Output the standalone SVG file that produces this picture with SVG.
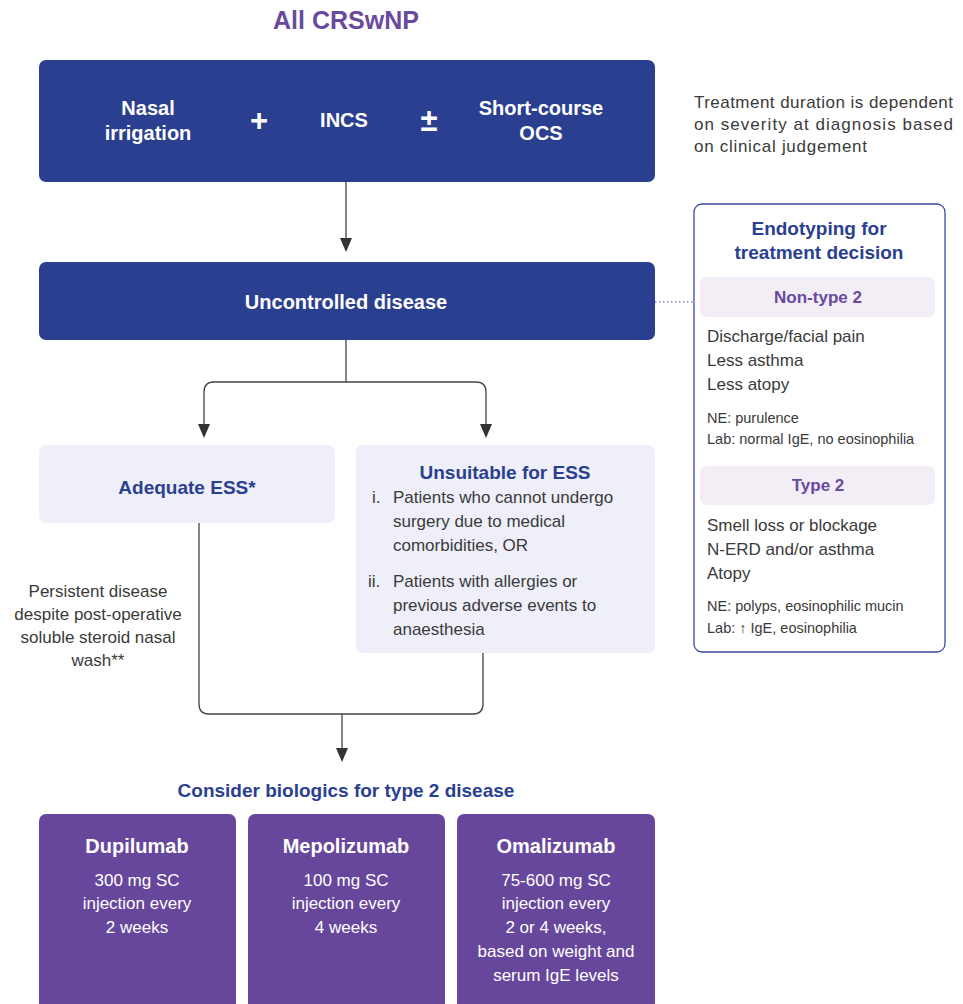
<svg xmlns="http://www.w3.org/2000/svg" width="963" height="1004" viewBox="0 0 963 1004">
<defs>
<style>
text{font-family:"Liberation Sans",Arial,sans-serif;}
.w{fill:#fff;font-weight:bold;font-size:20px;text-anchor:middle;}
.op{fill:#fff;font-weight:bold;font-size:31px;text-anchor:middle;}
.wb{fill:#fff;font-size:17px;text-anchor:middle;}
.hb{fill:#2B3F91;font-weight:bold;text-anchor:middle;}
.g{fill:#3a3a3a;font-size:17px;}
.gs{fill:#3a3a3a;font-size:14.5px;}
.pu{fill:#6A4A9E;font-weight:bold;text-anchor:middle;}
.con{fill:none;stroke:#444;stroke-width:1.3;}
.ah{fill:#333;}
</style>
</defs>
<rect width="963" height="1004" fill="#fff"/>

<text id="title" x="346" y="29" class="pu" font-size="25">All CRSwNP</text>

<g id="connectors">
<path class="con" d="M346,182 V240"/>
<path class="ah" d="M340,238 L352,238 L346,252 Z"/>
<path class="con" d="M346,340 V382 M346,382 H214 Q204,382 204,392 V426 M346,382 H476 Q486,382 486,392 V426"/>
<path class="ah" d="M198,424 L210,424 L204,438 Z"/>
<path class="ah" d="M480,424 L492,424 L486,438 Z"/>
<path class="con" d="M199,523 V704 Q199,714 209,714 H473 Q483,714 483,704 V653 M342,714 V750"/>
<path class="ah" d="M336,748 L348,748 L342,762 Z"/>
<path d="M655,302 H700" fill="none" stroke="#3A4CA0" stroke-width="1" stroke-dasharray="1.5,2.5"/>
</g>

<g id="top">
<rect x="39" y="60" width="616" height="122" rx="7" fill="#2B3F91"/>
<text x="148" y="115" class="w">Nasal</text>
<text x="148" y="140" class="w">irrigation</text>
<text x="259" y="131" class="op">+</text>
<text x="344" y="127" class="w">INCS</text>
<text x="429" y="131" class="op">±</text>
<text x="541" y="115" class="w">Short-course</text>
<text x="541" y="140" class="w">OCS</text>
</g>

<g id="note">
<text x="694" y="108" class="g" textLength="259" lengthAdjust="spacing">Treatment duration is dependent</text>
<text x="694" y="130" class="g" textLength="259" lengthAdjust="spacing">on severity at diagnosis based</text>
<text x="694" y="152" class="g" textLength="173" lengthAdjust="spacing">on clinical judgement</text>
</g>

<g id="uncontrolled">
<rect x="39" y="262" width="616" height="78" rx="7" fill="#2B3F91"/>
<text x="346" y="309" class="w">Uncontrolled disease</text>
</g>

<g id="adequate">
<rect x="39" y="445" width="296" height="78" rx="7" fill="#EEEFF8"/>
<text x="187" y="494" class="hb" font-size="19">Adequate ESS*</text>
</g>

<g id="unsuitable">
<rect x="356" y="445" width="299" height="208" rx="7" fill="#EEEFF8"/>
<text x="505" y="479" class="hb" font-size="19">Unsuitable for ESS</text>
<text x="372" y="503" class="g">i.</text>
<text x="393" y="503" class="g">Patients who cannot undergo</text>
<text x="393" y="527" class="g">surgery due to medical</text>
<text x="393" y="551" class="g">comorbidities, OR</text>
<text x="368" y="587" class="g">ii.</text>
<text x="393" y="587" class="g">Patients with allergies or</text>
<text x="393" y="611" class="g">previous adverse events to</text>
<text x="393" y="635" class="g">anaesthesia</text>
</g>

<g id="persistent">
<text x="98" y="597" class="g" text-anchor="middle">Persistent disease</text>
<text x="98" y="620" class="g" text-anchor="middle">despite post-operative</text>
<text x="98" y="643" class="g" text-anchor="middle">soluble steroid nasal</text>
<text x="98" y="666" class="g" text-anchor="middle">wash**</text>
</g>

<g id="endotyping">
<rect x="694" y="204" width="251" height="448" rx="8" fill="#fff" stroke="#3A4CA0" stroke-width="1.3"/>
<text x="819" y="235" class="hb" font-size="19">Endotyping for</text>
<text x="819" y="259" class="hb" font-size="19">treatment decision</text>
<rect x="700" y="277" width="235" height="40" rx="7" fill="#F3EEF6"/>
<text x="818" y="303" class="pu" font-size="17">Non-type 2</text>
<text x="707" y="342" class="g">Discharge/facial pain</text>
<text x="707" y="366" class="g">Less asthma</text>
<text x="707" y="390" class="g">Less atopy</text>
<text x="707" y="423" class="gs">NE: purulence</text>
<text x="707" y="444" class="gs">Lab: normal IgE, no eosinophilia</text>
<rect x="700" y="466" width="235" height="39" rx="7" fill="#F3EEF6"/>
<text x="818" y="491" class="pu" font-size="17">Type 2</text>
<text x="707" y="531" class="g">Smell loss or blockage</text>
<text x="707" y="555" class="g">N-ERD and/or asthma</text>
<text x="707" y="579" class="g">Atopy</text>
<text x="707" y="611" class="gs">NE: polyps, eosinophilic mucin</text>
<text x="707" y="633" class="gs">Lab: ↑ IgE, eosinophilia</text>
</g>

<text id="consider" x="346" y="797" class="hb" font-size="19">Consider biologics for type 2 disease</text>

<g id="dupilumab">
<rect x="39" y="814" width="197" height="200" rx="7" fill="#67479C"/>
<text x="137" y="853" class="w">Dupilumab</text>
<text x="137" y="886" class="wb">300 mg SC</text>
<text x="137" y="909" class="wb">injection every</text>
<text x="137" y="933" class="wb">2 weeks</text>
</g>
<g id="mepolizumab">
<rect x="248" y="814" width="197" height="200" rx="7" fill="#67479C"/>
<text x="346" y="853" class="w">Mepolizumab</text>
<text x="346" y="886" class="wb">100 mg SC</text>
<text x="346" y="909" class="wb">injection every</text>
<text x="346" y="933" class="wb">4 weeks</text>
</g>
<g id="omalizumab">
<rect x="457" y="814" width="198" height="200" rx="7" fill="#67479C"/>
<text x="556" y="853" class="w">Omalizumab</text>
<text x="556" y="886" class="wb">75-600 mg SC</text>
<text x="556" y="909" class="wb">injection every</text>
<text x="556" y="933" class="wb">2 or 4 weeks,</text>
<text x="556" y="957" class="wb">based on weight and</text>
<text x="556" y="981" class="wb">serum IgE levels</text>
</g>
</svg>
